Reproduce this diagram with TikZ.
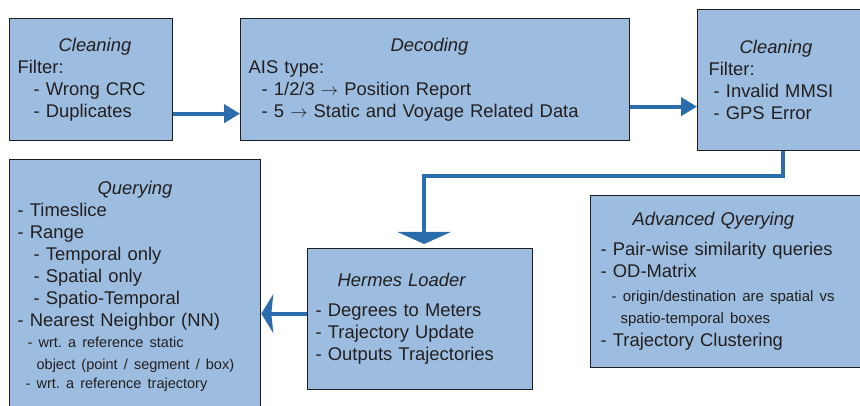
\documentclass[tikz,border=0pt]{standalone}
\usepackage{fontspec}
\setmainfont{Liberation Sans}
\usetikzlibrary{arrows.meta}
\definecolor{boxfill}{HTML}{9CBDE0}
\definecolor{boxline}{HTML}{1E1E1E}
\definecolor{flowblue}{HTML}{2B6DAC}
\definecolor{ink}{HTML}{231F20}
\newcommand{\indt}[1]{\hspace*{#1pt}}
\newcommand{\smalltxt}{\fontsize{14.5}{20}\selectfont}
\newcommand{\smallertxt}{\fontsize{15}{20}\selectfont}
\frenchspacing

\begin{document}
\begin{tikzpicture}[x=1pt, y=1pt, every node/.style={draw=boxline, fill=boxfill, line width=1.3pt, anchor=north west, align=left, inner xsep=8pt, inner ysep=0pt, text=ink, font=\fontsize{18.4}{22}\selectfont}, flow/.style={draw=flowblue, line width=4pt, -{Triangle[length=16pt,width=18pt]}}]
\path[fill=white] (0,0) rectangle (860,-406);
\useasboundingbox (0,0) rectangle (860,-406);
\node[text width=147pt, minimum height=122pt] (clean1) at (9,-18) {\indt{41}\textit{Cleaning}\\ Filter:\\ \indt{16}- Wrong CRC\\ \indt{16}- Duplicates};
\node[text width=373pt, minimum height=122pt] (decode) at (240,-18) {\indt{142}\textit{Decoding}\\ AIS type:\\ \indt{13}- 1/2/3 $\rightarrow$ Position Report\\ \indt{13}- 5 $\rightarrow$ Static and Voyage Related Data};
\node[text width=151pt, minimum height=141pt] (clean2) at (697,-9) {\indt{34}\textit{Cleaning}\\ \indt{3}Filter:\\ \indt{8}- Invalid MMSI\\ \indt{8}- GPS Error};
\node[text width=235pt, minimum height=253pt] (query) at (9,-159) {\indt{80}\textit{Querying}\\ - Timeslice\\ - Range\\ \indt{16}- Temporal only\\ \indt{16}- Spatial only\\ \indt{16}- Spatio-Temporal\\ - Nearest Neighbor (NN)\\[-1pt] {\smalltxt\indt{10}- wrt. a reference static}\\ {\smalltxt\indt{19}object (point / segment / box)}\\[-3pt] {\smalltxt\indt{8}- wrt. a reference trajectory}};
\node[text width=209pt, minimum height=141pt] (hermes) at (307,-248) {\indt{22}\textit{Hermes Loader}\\[8pt] - Degrees to Meters\\ - Trajectory Update\\ - Outputs Trajectories};
\node[text width=258pt, minimum height=172pt] (advanced) at (590,-195) {\indt{34}\textit{Advanced Qyerying}\\[8pt] \indt{2}- Pair-wise similarity queries\\ \indt{2}- OD-Matrix\\[2pt] {\smallertxt\indt{13}- origin/destination are spatial vs}\\ {\smallertxt\indt{22}spatio-temporal boxes}\\[1pt] \indt{2}- Trajectory Clustering};
\draw[flow] ([yshift=-34pt]clean1.east) -- ([yshift=-34pt]clean1.east -| decode.west);
\draw[flow] ([yshift=-27pt]decode.east) -- ([yshift=-27pt]decode.east -| clean2.west);
\draw[flow, -{Triangle[length=12pt,width=53pt]}] ([xshift=2pt]clean2.south) -- ++(0,-25) -| ([xshift=4pt,yshift=4pt]hermes.north);
\draw[flow, -{Stealth[length=12pt,width=39pt,inset=2pt]}] ([yshift=5.5pt]hermes.west) -- ([yshift=5.5pt]hermes.west -| query.east);
\end{tikzpicture}
\end{document}
